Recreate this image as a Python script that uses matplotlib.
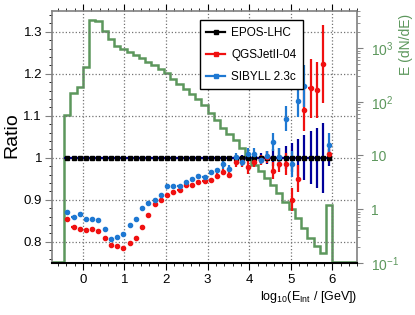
import numpy as np
import matplotlib
matplotlib.use("Agg")
import matplotlib.pyplot as plt
from matplotlib.lines import Line2D
from matplotlib.ticker import MultipleLocator, LogLocator, FuncFormatter, NullFormatter

plt.rcParams["font.family"] = ["Liberation Sans", "DejaVu Sans"]
plt.rcParams["mathtext.fontset"] = "custom"
plt.rcParams["mathtext.rm"] = "Liberation Sans"
plt.rcParams["mathtext.it"] = "Liberation Sans:italic"

# binning in log10(E_Int / GeV)
bin_lo = -0.45
bin_w = 0.15
n_bins = 43
edges = np.round(bin_lo + bin_w * np.arange(n_bins + 1), 3)
centers = 0.5 * (edges[:-1] + edges[1:])

# E dN/dE histogram (right axis)
hist = [56.0, 149, 187, 449, 3300, 3150, 2080, 1455, 1090, 958,
        867, 762, 662, 557, 481, 412, 347, 268, 216, 174,
        141, 113, 88.7, 62.1, 45.5, 32.5, 25.1, 19.6, 13.9, 9.06,
        6.70, 5.18, 3.83, 2.83, 2.03, 1.38, 1.00, 0.676, 0.44, 0.286,
        0.205, 0.150, 1.20]

# ratios to EPOS-LHC
epos = [1.0] * n_bins
epos_err = [0.002] * 26 + [0.004, 0.005, 0.006, 0.008, 0.010, 0.012, 0.015,
                           0.020, 0.024, 0.028, 0.034, 0.044, 0.053, 0.063,
                           0.071, 0.083, 0.020]

qgs = [0.854, 0.835, 0.830, 0.829, 0.831, 0.825, 0.808, 0.792, 0.789, 0.785,
       0.796, 0.808, 0.836, 0.863, 0.889, 0.900, 0.911, 0.919, 0.924, 0.935,
       0.936, 0.942, 0.945, 0.946, 0.957, 0.966, 0.960, 0.990, 0.989, 0.978,
       0.990, 0.994, 1.002, 0.969, 0.986, 0.985, 0.900, 0.950, 1.113, 1.165,
       1.162, 1.223, 1.010]
qgs_err = [0.003] * 20 + [0.004, 0.004, 0.005, 0.005, 0.006, 0.008, 0.008,
                          0.012, 0.010, 0.016, 0.012, 0.012, 0.014, 0.020,
                          0.020, 0.026, 0.028, 0.032, 0.050, 0.070, 0.067,
                          0.093, 0.012]

sib = [0.870, 0.859, 0.867, 0.854, 0.854, 0.852, 0.830, 0.807, 0.811, 0.819,
       0.839, 0.855, 0.880, 0.892, 0.900, 0.911, 0.932, 0.932, 0.932, 0.942,
       0.950, 0.957, 0.953, 0.965, 0.970, 0.984, 0.974, 1.002, 0.989, 1.010,
       1.010, 0.994, 1.004, 1.037, 1.002, 1.093, 0.985, 1.134, 1.171, np.nan,
       np.nan, np.nan, 1.030]
sib_err = [0.003] * 20 + [0.004, 0.004, 0.005, 0.005, 0.006, 0.010, 0.008,
                          0.010, 0.008, 0.012, 0.012, 0.010, 0.013, 0.021,
                          0.020, 0.029, 0.030, 0.038, 0.050, 0.0, 0.0,
                          0.0, 0.028]

c_green = "#5c975c"
c_red = "#f01010"
c_blue = "#1e78d2"
c_navy = "#00009a"
c_gray = "#808080"

x_lim = (-0.75, 6.6)
hist_floor = 0.104

fig = plt.figure(figsize=(4.15, 3.15), dpi=100)
rect = [0.1246, 0.166, 0.7364, 0.80]
ax = fig.add_axes(rect)
ax2 = ax.twinx()
ax.set_zorder(ax2.get_zorder() + 1)
ax.patch.set_visible(False)

# histogram, padded to the frame edges
h_edges = np.concatenate([[x_lim[0]], edges, [x_lim[1]]])
h_vals = np.concatenate([[hist_floor], hist, [hist_floor]])
ax2.stairs(h_vals, h_edges, color=c_green, lw=1.8)
ax2.set_yscale("log")
ax2.set_ylim(0.1, 5000)


def pow_fmt(v, pos):
    e = int(round(np.log10(v)))
    if e == 0:
        return "1"
    if e == 1:
        return "10"
    return r"$10^{%d}$" % e


ax2.yaxis.set_major_locator(LogLocator(base=10))
ax2.yaxis.set_minor_locator(LogLocator(base=10, subs=np.arange(2, 10)))
ax2.yaxis.set_major_formatter(FuncFormatter(pow_fmt))
ax2.yaxis.set_minor_formatter(NullFormatter())
ax2.tick_params(axis="y", which="both", direction="out", colors=c_gray,
                labelcolor=c_green, labelsize=10, pad=5)
ax2.tick_params(axis="y", which="major", length=4.5)
ax2.tick_params(axis="y", which="minor", length=2.5)
for s in ["left", "top", "bottom"]:
    ax2.spines[s].set_visible(False)
ax2.spines["right"].set_color(c_gray)
ax2.spines["right"].set_linewidth(1.2)

# ratio points
ax.errorbar(centers, epos, xerr=bin_w / 2, yerr=epos_err, fmt="s",
            color="black", ecolor=c_navy, ms=2.6, elinewidth=1.6, capsize=0)
ax.errorbar(centers, qgs, xerr=0.05, yerr=qgs_err, fmt="o",
            color=c_red, ecolor=c_red, ms=3.0, elinewidth=1.6, capsize=0)
ax.errorbar(centers, sib, xerr=0.05, yerr=sib_err, fmt="o",
            color=c_blue, ecolor=c_blue, ms=3.0, elinewidth=1.6, capsize=0)

ax.set_xlim(*x_lim)
ax.set_ylim(0.75, 1.35)
ax.xaxis.set_major_locator(MultipleLocator(1))
ax.xaxis.set_minor_locator(MultipleLocator(0.2))
ax.yaxis.set_major_locator(MultipleLocator(0.1))
ax.yaxis.set_minor_locator(MultipleLocator(0.02))
ax.yaxis.set_major_formatter(FuncFormatter(
    lambda v, p: "1" if abs(v - 1) < 1e-6 else "%.1f" % v))
ax.grid(True, which="major", linestyle=":", color="0.45", linewidth=0.9)
ax.set_axisbelow(True)

ax.tick_params(which="both", direction="out", labelsize=9.5, top=True,
               right=False)
ax.tick_params(which="major", length=5)
ax.tick_params(which="minor", length=2.5)
ax.tick_params(axis="y", colors=c_gray, labelcolor="black", pad=2)
ax.tick_params(axis="x", colors="black", labelcolor="black", pad=3)
ax.spines["right"].set_visible(False)
ax.spines["left"].set_color(c_gray)
ax.spines["top"].set_color(c_gray)
ax.spines["left"].set_linewidth(1.2)
ax.spines["top"].set_linewidth(1.2)
ax.spines["bottom"].set_color("black")
ax.spines["bottom"].set_linewidth(1.5)

ax.set_xlabel(r"log$_{10}$(E$_{\rm Int}$ / [GeV])", fontsize=9, loc="right")
ax.xaxis.set_label_coords(1.0, -0.105)
fig.text(12 / 415, 1 - 135 / 315, "Ratio", rotation=90, ha="center",
         va="center", fontsize=14)
fig.text(406 / 415, 1 - 44 / 315, "E (dN/dE)", rotation=90, ha="center",
         va="center", fontsize=10, color=c_green)

handles = [
    Line2D([], [], color="black", marker="s", ms=2.6, lw=1.6),
    Line2D([], [], color=c_red, marker="s", ms=2.6, lw=1.6),
    Line2D([], [], color=c_blue, marker="s", ms=2.6, lw=1.6),
]
labels = ["EPOS-LHC", "QGSJetII-04", "SIBYLL 2.3c"]
leg = ax.legend(handles, labels, loc="upper left",
                bbox_to_anchor=(0.465, 0.985), fontsize=8.5, fancybox=False,
                edgecolor="black", framealpha=1, handlelength=1.6,
                handletextpad=0.5, labelspacing=0.85, borderpad=0.55)
leg.get_frame().set_linewidth(1.0)

fig.savefig("out.png", dpi=100)
